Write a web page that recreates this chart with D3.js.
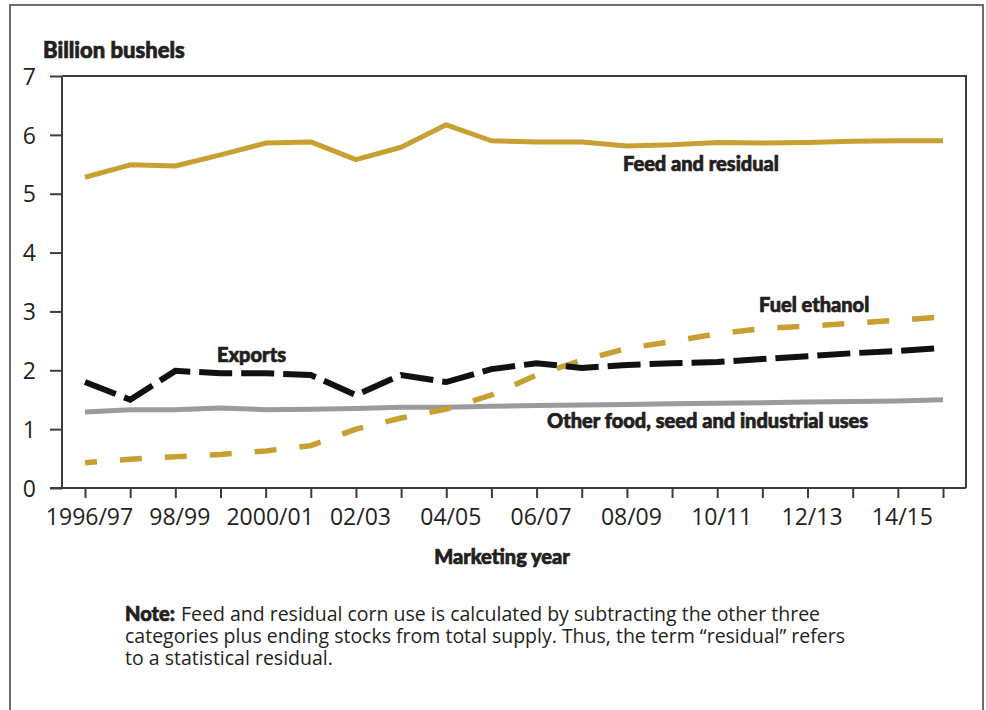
<!DOCTYPE html>
<html>
<head>
<meta charset="utf-8">
<script src="https://cdn.jsdelivr.net/npm/d3@7"></script>
<style>
  html, body { margin: 0; padding: 0; background: #fff; }
  svg { display: block; }
  .tick text { font-family: "Open Sans", sans-serif; font-size: 23px; fill: #231f20; }
  .lbl { font-family: "Lato", sans-serif; font-weight: 900; fill: #231f20; stroke: #231f20; stroke-width: 0.7px; }
  .note { font-family: "Open Sans", sans-serif; font-size: 19.5px; fill: #231f20; }
</style>
</head>
<body>
<div id="chart"></div>
<script>
  const years = d3.range(1996, 2016);
  const yearLabels = ["1996/97", "98/99", "2000/01", "02/03", "04/05", "06/07", "08/09", "10/11", "12/13", "14/15"];
  const yTicks = [0, 1, 2, 3, 4, 5, 6, 7];

  const feedResidual = [5.28, 5.49, 5.47, 5.66, 5.86, 5.88, 5.58, 5.79, 6.17, 5.90, 5.88, 5.88, 5.81, 5.83, 5.87, 5.86, 5.87, 5.89, 5.90, 5.90];
  const exportsUse = [1.80, 1.50, 1.99, 1.95, 1.95, 1.92, 1.58, 1.92, 1.80, 2.02, 2.12, 2.04, 2.09, 2.12, 2.14, 2.19, 2.24, 2.29, 2.33, 2.38];
  const fuelEthanol = [0.43, 0.49, 0.53, 0.57, 0.63, 0.72, 1.00, 1.19, 1.34, 1.58, 1.92, 2.17, 2.37, 2.49, 2.62, 2.71, 2.75, 2.80, 2.85, 2.91];
  const otherFsi = [1.29, 1.33, 1.33, 1.36, 1.33, 1.34, 1.35, 1.37, 1.37, 1.39, 1.40, 1.41, 1.42, 1.43, 1.44, 1.45, 1.46, 1.47, 1.48, 1.50];

  const W = 986, H = 710;
  const plot = { left: 62, right: 966, top: 76, bottom: 488 };

  const svg = d3.select("#chart").append("svg")
    .attr("width", W)
    .attr("height", H);

  // outer frame
  svg.append("rect")
    .attr("x", 10).attr("y", 5)
    .attr("width", 973).attr("height", 720)
    .attr("fill", "#fff")
    .attr("stroke", "#6d6d6d")
    .attr("stroke-width", 2);

  const x = d3.scaleLinear().domain([1996, 2015]).range([85, 943]);
  const y = d3.scaleLinear().domain([0, 7]).range([plot.bottom, plot.top]);

  // frame of the plot: top and right
  svg.append("path")
    .attr("d", `M${plot.left},${plot.top}H${plot.right}V${plot.bottom}`)
    .attr("fill", "none")
    .attr("stroke", "#3d3d3d")
    .attr("stroke-width", 2);

  const yAxis = svg.append("g")
    .attr("transform", `translate(${plot.left},0)`)
    .call(d3.axisLeft(y).tickValues(yTicks).tickSize(12).tickPadding(14).tickFormat(d3.format("d")));

  const xAxis = svg.append("g")
    .attr("transform", `translate(0,${plot.bottom})`)
    .call(d3.axisBottom(x).tickValues(years).tickSize(10).tickPadding(11)
      .tickFormat(d => (d - 1996) % 2 === 0 ? yearLabels[(d - 1996) / 2] : ""));

  [yAxis, xAxis].forEach(a => {
    a.selectAll("line").attr("stroke", "#3d3d3d").attr("stroke-width", 2);
    a.select(".domain").remove();
  });
  xAxis.selectAll(".tick text").attr("dx", 4);
  yAxis.selectAll(".tick text").attr("dy", "0.36em");

  // axis lines
  svg.append("line")
    .attr("x1", plot.left).attr("x2", plot.left)
    .attr("y1", plot.top).attr("y2", plot.bottom)
    .attr("stroke", "#3d3d3d").attr("stroke-width", 2);
  svg.append("line")
    .attr("x1", plot.left - 12).attr("x2", plot.right)
    .attr("y1", plot.bottom).attr("y2", plot.bottom)
    .attr("stroke", "#3d3d3d").attr("stroke-width", 2);

  const line = d3.line()
    .x((d, i) => x(years[i]))
    .y(d => y(d));

  const gold = "#c8a031";

  // SERIES
  svg.append("path").datum(otherFsi)
    .attr("d", line).attr("fill", "none")
    .attr("stroke", "#9b9b9b").attr("stroke-width", 5);

  svg.append("path").datum(fuelEthanol)
    .attr("d", line).attr("fill", "none")
    .attr("stroke", gold).attr("stroke-width", 5.5)
    .attr("stroke-dasharray", "22,23").attr("stroke-dashoffset", 10);

  svg.append("path").datum(exportsUse)
    .attr("d", line).attr("fill", "none")
    .attr("stroke", "#111").attr("stroke-width", 6)
    .attr("stroke-dasharray", "33,9");

  svg.append("path").datum(feedResidual)
    .attr("d", line).attr("fill", "none")
    .attr("stroke", gold).attr("stroke-width", 5)
    .attr("stroke-linejoin", "round");

  // LABELS
  svg.append("text").attr("class", "lbl").attr("x", 43).attr("y", 58)
    .style("font-size", "22px").text("Billion bushels");

  const seriesLabels = [
    { t: "Feed and residual", x: 623, y: 171 },
    { t: "Fuel ethanol", x: 759, y: 312 },
    { t: "Exports", x: 217, y: 362 },
    { t: "Other food, seed and industrial uses", x: 547, y: 428 }
  ];
  svg.selectAll("text.series").data(seriesLabels).enter().append("text")
    .attr("class", "lbl series")
    .attr("x", d => d.x).attr("y", d => d.y)
    .style("font-size", "20px")
    .text(d => d.t);

  svg.append("text").attr("class", "lbl")
    .attr("x", 502).attr("y", 564)
    .attr("text-anchor", "middle")
    .style("font-size", "20px")
    .text("Marketing year");

  // NOTE
  const noteLines = [
    "Feed and residual corn use is calculated by subtracting the other three",
    "categories plus ending stocks from total supply. Thus, the term \u201cresidual\u201d refers",
    "to a statistical residual."
  ];
  const noteHead = svg.append("text").attr("class", "lbl")
    .attr("x", 125).attr("y", 621)
    .style("font-size", "20px")
    .text("Note:");
  const headW = noteHead.node().getComputedTextLength();
  noteLines.forEach((t, i) => {
    svg.append("text").attr("class", "note")
      .attr("x", i === 0 ? 125 + headW + 6 : 125)
      .attr("y", 621 + i * 22)
      .text(t);
  });
</script>
</body>
</html>
